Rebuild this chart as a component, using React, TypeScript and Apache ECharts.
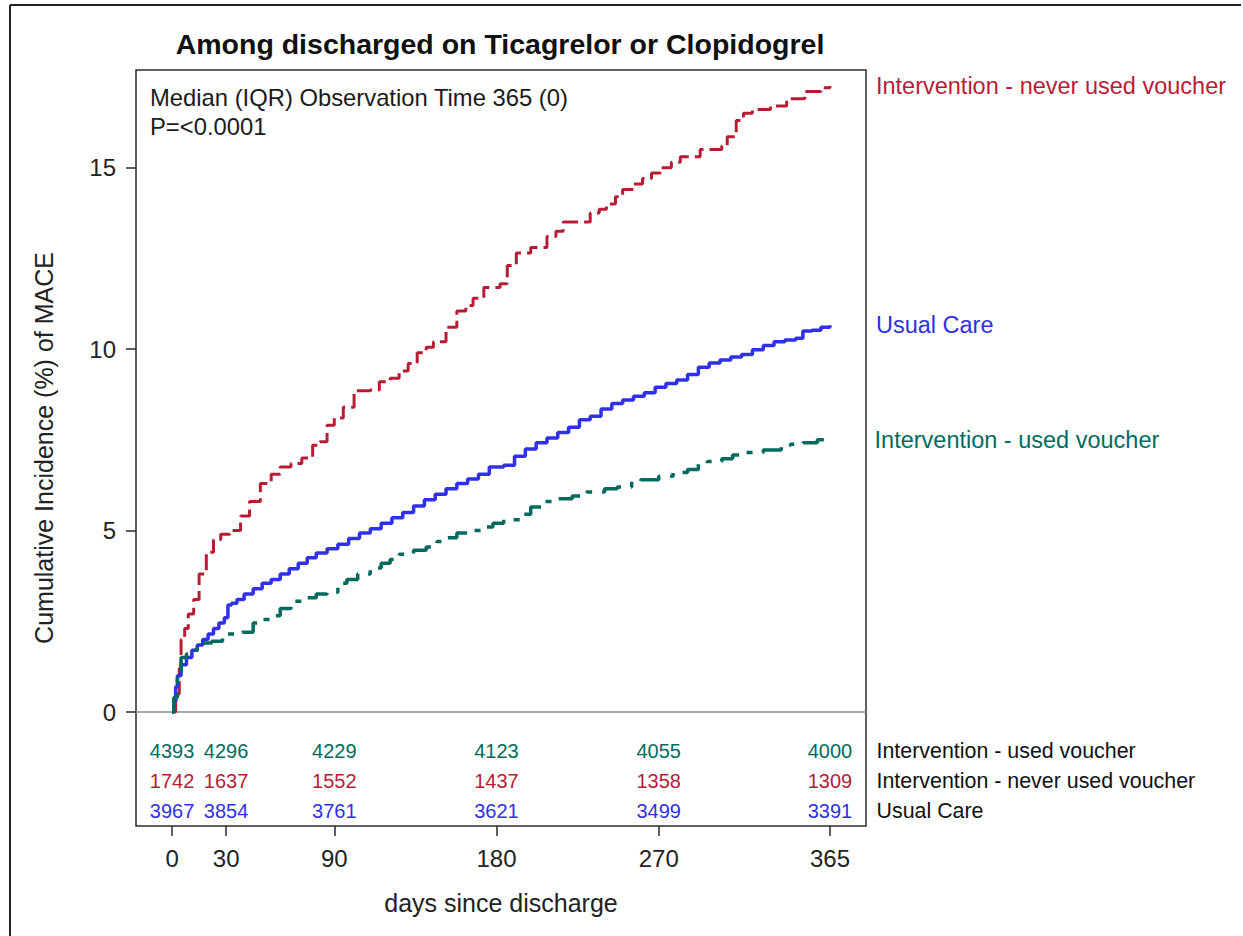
import React, { useEffect, useRef } from "react";
import * as echarts from "echarts";

// ---- Data ----
const seriesNames = [
  "Intervention - never used voucher",
  "Usual Care",
  "Intervention - used voucher",
];

const neverDays = [0, 2, 4, 5, 7, 9, 12, 15, 19, 23, 27, 32, 38, 43, 49, 55, 60, 66, 72, 78, 82, 86, 90, 95, 101, 110, 115, 121, 126, 131, 136, 141, 145, 152, 158, 163, 167, 173, 182, 186, 191, 199, 208, 213, 217, 225, 232, 237, 241, 246, 250, 256, 261, 266, 271, 277, 282, 293, 305, 308, 313, 317, 322, 332, 341, 351, 360, 365];
const neverPct = [0, 0.5, 1.2, 2.0, 2.3, 2.7, 3.1, 3.8, 4.4, 4.75, 4.9, 5.0, 5.4, 5.8, 6.3, 6.55, 6.75, 6.85, 7.0, 7.35, 7.45, 7.9, 8.1, 8.4, 8.85, 8.87, 9.1, 9.2, 9.4, 9.6, 9.9, 10.05, 10.2, 10.6, 11.05, 11.2, 11.4, 11.7, 11.8, 12.3, 12.65, 12.8, 13.1, 13.25, 13.5, 13.5, 13.75, 13.85, 14.0, 14.2, 14.4, 14.55, 14.7, 14.85, 15.0, 15.15, 15.3, 15.5, 15.6, 15.85, 16.3, 16.5, 16.6, 16.7, 16.9, 17.1, 17.2, 17.25];

const usualDays = [0, 1, 2, 3, 5, 8, 11, 14, 17, 20, 23, 26, 29, 31, 33, 36, 40, 45, 50, 55, 60, 65, 70, 75, 80, 86, 92, 98, 104, 110, 116, 122, 128, 134, 140, 146, 152, 158, 164, 170, 176, 184, 190, 196, 202, 208, 214, 220, 226, 232, 238, 244, 250, 256, 262, 268, 274, 280, 286, 292, 298, 304, 310, 316, 322, 328, 334, 340, 346, 350, 355, 360, 365];
const usualPct = [0, 0.3, 0.7, 1.0, 1.3, 1.5, 1.7, 1.85, 2.0, 2.15, 2.3, 2.45, 2.6, 2.95, 3.0, 3.1, 3.25, 3.4, 3.55, 3.65, 3.8, 3.95, 4.1, 4.25, 4.38, 4.5, 4.62, 4.78, 4.93, 5.05, 5.2, 5.35, 5.5, 5.68, 5.85, 6.0, 6.15, 6.3, 6.42, 6.55, 6.75, 6.8, 7.05, 7.25, 7.42, 7.55, 7.7, 7.85, 8.05, 8.15, 8.35, 8.5, 8.6, 8.7, 8.8, 8.95, 9.05, 9.15, 9.3, 9.5, 9.62, 9.7, 9.78, 9.85, 9.98, 10.1, 10.2, 10.25, 10.3, 10.5, 10.52, 10.6, 10.66];

const usedDays = [0, 1, 3, 5, 8, 10, 14, 22, 28, 39, 45, 50, 55, 60, 66, 72, 80, 86, 92, 97, 103, 110, 116, 121, 126, 134, 141, 147, 152, 158, 167, 173, 178, 184, 193, 199, 205, 213, 222, 230, 240, 247, 255, 260, 270, 278, 286, 292, 297, 305, 311, 318, 328, 338, 343, 350, 358, 362];
const usedPct = [0, 0.4, 1.1, 1.5, 1.6, 1.7, 1.9, 1.95, 2.15, 2.2, 2.45, 2.55, 2.65, 2.85, 3.05, 3.15, 3.25, 3.3, 3.55, 3.65, 3.8, 3.97, 4.1, 4.2, 4.35, 4.46, 4.55, 4.7, 4.8, 4.93, 5.0, 5.1, 5.2, 5.3, 5.45, 5.65, 5.8, 5.88, 5.95, 6.06, 6.15, 6.2, 6.35, 6.4, 6.5, 6.6, 6.68, 6.85, 6.9, 6.98, 7.08, 7.15, 7.22, 7.35, 7.38, 7.42, 7.5, 7.5];

const xTicks = [0, 30, 90, 180, 270, 365];
const yTicks = [0, 5, 10, 15];

const riskDays = [0, 30, 90, 180, 270, 365];
const riskUsed = [4393, 4296, 4229, 4123, 4055, 4000];
const riskNever = [1742, 1637, 1552, 1437, 1358, 1309];
const riskUsual = [3967, 3854, 3761, 3621, 3499, 3391];

const title = "Among discharged on Ticagrelor or Clopidogrel";
const annotation1 = "Median (IQR) Observation Time 365 (0)";
const annotation2 = "P=<0.0001";
const xName = "days since discharge";
const yName = "Cumulative Incidence (%) of MACE";

// ---- Styling ----
const RED = "#B81C35";
const BLUE = "#3030E6";
const TEAL = "#006B5E";
const FONT = "'Liberation Sans', Arial, sans-serif";

const pair = (d: number[], v: number[]) => d.map((x, i) => [x, v[i]]);

export default function App() {
  const ref = useRef<HTMLDivElement>(null);

  useEffect(() => {
    if (!ref.current) return;
    const chart = echarts.init(ref.current, null, { renderer: "svg" });

    // y-positions (in axis units) of at-risk table rows, below zero
    const rowY = [-1.07, -1.9, -2.73];
    const riskRows = [
      { counts: riskUsed, color: TEAL, name: seriesNames[2] },
      { counts: riskNever, color: RED, name: seriesNames[0] },
      { counts: riskUsual, color: BLUE, name: seriesNames[1] },
    ];

    const lineSeries = [
      {
        name: seriesNames[0],
        data: pair(neverDays, neverPct),
        color: RED,
        lineStyle: { color: RED, width: 3, type: [16, 6] },
        dist: 46,
      },
      {
        name: seriesNames[1],
        data: pair(usualDays, usualPct),
        color: BLUE,
        lineStyle: { color: BLUE, width: 3.5, type: "solid" },
        dist: 46,
      },
      {
        name: seriesNames[2],
        data: pair(usedDays, usedPct),
        color: TEAL,
        lineStyle: { color: TEAL, width: 3.5, type: [24, 10, 6, 10] },
        dist: 50,
      },
    ].map((s, idx) => ({
      type: "line",
      name: s.name,
      data: s.data,
      step: "end",
      showSymbol: false,
      symbol: "none",
      z: 5,
      lineStyle: s.lineStyle,
      itemStyle: { color: s.color },
      endLabel: {
        show: true,
        formatter: s.name,
        color: s.color,
        fontSize: 23.5,
        fontFamily: FONT,
        distance: s.dist,
      },
      markLine:
        idx === 0
          ? {
              silent: true,
              symbol: "none",
              label: { show: false },
              lineStyle: { color: "#8a8a8a", width: 1.5, type: "solid" },
              data: [{ yAxis: 0 }],
              z: 1,
            }
          : undefined,
    }));

    const riskSeries = riskRows.map((r, ri) => ({
      type: "scatter",
      name: "risk-" + ri,
      symbol: "circle",
      symbolSize: 1,
      clip: false,
      itemStyle: { color: "rgba(0,0,0,0)", opacity: 1 },
      data: riskDays.map((d, i) => [d, rowY[ri], r.counts[i]]),
      label: {
        show: true,
        position: "inside",
        formatter: (p: any) => String(p.value[2]),
        color: r.color,
        opacity: 1,
        textBorderWidth: 0,
        fontSize: 20,
        fontFamily: FONT,
      },
      silent: true,
    }));

    const rowLabelSeries = {
      type: "scatter",
      name: "row-labels",
      symbol: "circle",
      symbolSize: 1,
      clip: false,
      itemStyle: { color: "rgba(0,0,0,0)", opacity: 1 },
      data: riskRows.map((r, ri) => ({ value: [385, rowY[ri]], name: r.name })),
      label: {
        show: true,
        position: "right",
        distance: 10,
        formatter: (p: any) => p.name,
        color: "#111",
        opacity: 1,
        textBorderWidth: 0,
        fontSize: 21.4,
        fontFamily: FONT,
      },
      silent: true,
    };

    chart.setOption({
      animation: false,
      backgroundColor: "#ffffff",
      textStyle: { fontFamily: FONT },
      grid: {
        left: 136,
        top: 70,
        right: 377,
        bottom: 110,
        show: true,
        borderColor: "#2b2b2b",
        borderWidth: 1.5,
        backgroundColor: "transparent",
        containLabel: false,
        outerBoundsMode: "none",
      },
      xAxis: {
        type: "value",
        min: -20,
        max: 385,
        name: xName,
        nameLocation: "middle",
        nameGap: 64,
        nameTextStyle: { fontSize: 25, color: "#222", fontFamily: FONT },
        axisLine: { show: false, onZero: false },
        axisTick: {
          show: true,
          customValues: xTicks,
          length: 10,
          lineStyle: { color: "#2b2b2b", width: 1.5 },
        },
        axisLabel: {
          customValues: xTicks,
          margin: 20,
          fontSize: 24,
          color: "#222",
          fontFamily: FONT,
        },
        splitLine: { show: false },
      },
      yAxis: {
        type: "value",
        min: -3.14,
        max: 17.69,
        name: yName,
        nameLocation: "middle",
        nameRotate: 90,
        nameGap: 80,
        nameTextStyle: { fontSize: 25, color: "#222", fontFamily: FONT },
        axisLine: { show: false, onZero: false },
        axisTick: {
          show: true,
          customValues: yTicks,
          length: 10,
          lineStyle: { color: "#2b2b2b", width: 1.5 },
        },
        axisLabel: {
          customValues: yTicks,
          margin: 20,
          fontSize: 24,
          color: "#222",
          fontFamily: FONT,
        },
        splitLine: { show: false },
      },
      graphic: [
        {
          type: "line",
          shape: { x1: 10, y1: 5, x2: 1241, y2: 5 },
          style: { stroke: "#222", lineWidth: 2 },
          silent: true,
        },
        {
          type: "line",
          shape: { x1: 10, y1: 5, x2: 10, y2: 936 },
          style: { stroke: "#222", lineWidth: 2 },
          silent: true,
        },
        {
          type: "text",
          x: 500,
          y: 44,
          style: {
            text: title,
            align: "center",
            verticalAlign: "middle",
            fontSize: 28.5,
            fontWeight: "bold",
            fontFamily: FONT,
            fill: "#111",
          },
          silent: true,
        },
        {
          type: "text",
          x: 150,
          y: 97,
          style: {
            text: annotation1,
            align: "left",
            verticalAlign: "middle",
            fontSize: 23.8,
            fontFamily: FONT,
            fill: "#1a1a1a",
          },
          silent: true,
        },
        {
          type: "text",
          x: 150,
          y: 126,
          style: {
            text: annotation2,
            align: "left",
            verticalAlign: "middle",
            fontSize: 23.8,
            fontFamily: FONT,
            fill: "#1a1a1a",
          },
          silent: true,
        },
      ],
      series: [...lineSeries, ...riskSeries, rowLabelSeries],
    });

    return () => {
      chart.dispose();
    };
  }, []);

  return (
    <div
      ref={ref}
      style={{ position: "fixed", left: 0, top: 0, width: 1243, height: 936, background: "#fff" }}
    />
  );
}
